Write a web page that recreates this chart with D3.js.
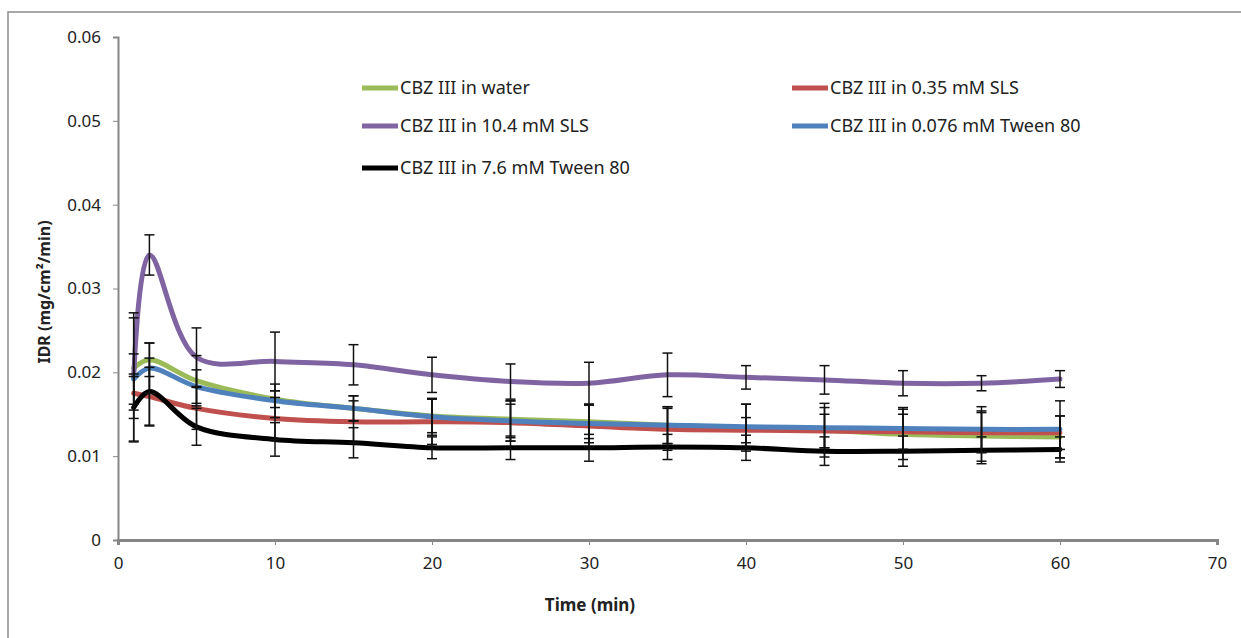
<!DOCTYPE html>
<html>
<head>
<meta charset="utf-8">
<script src="https://cdn.jsdelivr.net/npm/d3@7"></script>
<style>
  body { margin: 0; background: #fff; }
  text { font-family: "Noto Sans", sans-serif; fill: #222; }
</style>
</head>
<body>
<div id="chart"></div>
<script>
// sampling times (min)
var times = [1, 2, 5, 10, 15, 20, 25, 30, 35, 40, 45, 50, 55, 60];

var seriesNames = [
  'CBZ III in water',
  'CBZ III in 0.35 mM  SLS',
  'CBZ III in 10.4 mM  SLS',
  'CBZ III in 0.076 mM Tween 80',
  'CBZ III in 7.6 mM Tween 80'
];
var seriesColors = ['#9bbb59', '#c0504d', '#8064a2', '#4f81bd', '#000000'];

var water     = [0.0205, 0.0215, 0.0190, 0.0168, 0.0157, 0.0148, 0.0144, 0.0141, 0.0137, 0.0134, 0.0131, 0.0126, 0.0124, 0.0123];
var sls035    = [0.0175, 0.0171, 0.0157, 0.0145, 0.0141, 0.0141, 0.0140, 0.0136, 0.0132, 0.0131, 0.0130, 0.0129, 0.0128, 0.0128];
var sls104    = [0.0194, 0.0340, 0.0218, 0.0213, 0.0209, 0.0197, 0.0189, 0.0187, 0.0197, 0.0194, 0.0191, 0.0187, 0.0187, 0.0192];
var tween0076 = [0.0192, 0.0205, 0.0183, 0.0166, 0.0157, 0.0147, 0.0142, 0.0139, 0.0137, 0.0135, 0.0134, 0.0133, 0.0132, 0.0132];
var tween76   = [0.0158, 0.0177, 0.0135, 0.0120, 0.0116, 0.0110, 0.0110, 0.0110, 0.0111, 0.0110, 0.0106, 0.0106, 0.0107, 0.0108];

var waterErr     = [0.0060, 0.0020, 0.0030, 0.0010, 0.0015, 0.0020, 0.0022, 0.0020, 0.0022, 0.0028, 0.0032, 0.0030, 0.0030, 0.0025];
var sls035Err    = [0.0020, 0.0035, 0.0025, 0.0025, 0.0025, 0.0027, 0.0022, 0.0025, 0.0025, 0.0015, 0.0020, 0.0021, 0.0024, 0.0020];
var sls104Err    = [0.0077, 0.0024, 0.0035, 0.0035, 0.0024, 0.0021, 0.0021, 0.0025, 0.0026, 0.0014, 0.0017, 0.0015, 0.0009, 0.0010];
var tween0076Err = [0.0030, 0.0030, 0.0020, 0.0020, 0.0015, 0.0022, 0.0024, 0.0023, 0.0022, 0.0027, 0.0024, 0.0025, 0.0027, 0.0034];
var tween76Err   = [0.0040, 0.0040, 0.0022, 0.0020, 0.0018, 0.0013, 0.0014, 0.0016, 0.0015, 0.0015, 0.0017, 0.0018, 0.0016, 0.0015];

var xTicks = [0, 10, 20, 30, 40, 50, 60, 70];
var yTicks = [0, 0.01, 0.02, 0.03, 0.04, 0.05, 0.06];

var allValues = [water, sls035, sls104, tween0076, tween76];
var allErrs = [waterErr, sls035Err, sls104Err, tween0076Err, tween76Err];

var series = seriesNames.map(function(name, i) {
  return {
    name: name,
    color: seriesColors[i],
    points: times.map(function(t, j) {
      return { t: t, v: allValues[i][j], e: allErrs[i][j] };
    })
  };
});

var width = 1241, height = 638;

var svg = d3.select('#chart').append('svg')
  .attr('width', width)
  .attr('height', height);

// outer frame
svg.append('rect')
  .attr('x', 8).attr('y', 12)
  .attr('width', 1260).attr('height', 660)
  .attr('fill', 'none')
  .attr('stroke', '#8c8c8c')
  .attr('stroke-width', 1.5);

var xScale = d3.scaleLinear().domain([0, 70]).range([118, 1217]);
var yScale = d3.scaleLinear().domain([0, 0.06]).range([540, 37]);

// y axis
var yAxis = d3.axisLeft(yScale)
  .tickValues(yTicks)
  .tickFormat(function(d) { return d === 0 ? '0' : d3.format('.2f')(d); })
  .tickSize(5)
  .tickPadding(12);

var yG = svg.append('g')
  .attr('transform', 'translate(118,0)')
  .call(yAxis);
yG.select('.domain').attr('stroke', '#868686').attr('stroke-width', 2);
yG.selectAll('.tick line').attr('stroke', '#868686');
yG.selectAll('text')
  .style('font-size', '17px')
  .style('font-family', '"Noto Sans", sans-serif')
  .attr('fill', '#333');

// x axis
var xAxis = d3.axisBottom(xScale)
  .tickValues(xTicks)
  .tickSize(5)
  .tickPadding(12);

var xG = svg.append('g')
  .attr('transform', 'translate(0,540)')
  .call(xAxis);
xG.select('.domain').attr('stroke', '#868686').attr('stroke-width', 3);
xG.selectAll('.tick line').attr('stroke', '#868686');
xG.selectAll('text')
  .style('font-size', '17px')
  .style('font-family', '"Noto Sans", sans-serif')
  .attr('fill', '#333');

// axis titles
svg.append('text')
  .attr('x', 590)
  .attr('y', 611)
  .attr('text-anchor', 'middle')
  .style('font-size', '17px')
  .style('font-weight', 'bold')
  .text('Time (min)');

svg.append('text')
  .attr('transform', 'translate(50,292) rotate(-90)')
  .attr('text-anchor', 'middle')
  .style('font-size', '16px')
  .style('font-weight', 'bold')
  .text('IDR (mg/cm\u00b2/min)');

// smooth lines
var line = d3.line()
  .x(function(d) { return xScale(d.t); })
  .y(function(d) { return yScale(d.v); })
  .curve(d3.curveCatmullRom.alpha(0.5));

svg.append('g')
  .selectAll('path')
  .data(series)
  .enter()
  .append('path')
  .attr('d', function(d) { return line(d.points); })
  .attr('fill', 'none')
  .attr('stroke', function(d) { return d.color; })
  .attr('stroke-width', 5)
  .attr('stroke-linejoin', 'round')
  .attr('stroke-linecap', 'round');

// error bars
var errG = svg.append('g');
series.forEach(function(s) {
  var g = errG.append('g');
  g.selectAll('line.bar')
    .data(s.points)
    .enter()
    .append('line')
    .attr('x1', function(d) { return xScale(d.t); })
    .attr('x2', function(d) { return xScale(d.t); })
    .attr('y1', function(d) { return yScale(d.v + d.e); })
    .attr('y2', function(d) { return yScale(d.v - d.e); })
    .attr('stroke', '#111')
    .attr('stroke-width', 1.5);
  [1, -1].forEach(function(sign) {
    g.selectAll('line.cap' + sign)
      .data(s.points)
      .enter()
      .append('line')
      .attr('x1', function(d) { return xScale(d.t) - 5; })
      .attr('x2', function(d) { return xScale(d.t) + 5; })
      .attr('y1', function(d) { return yScale(d.v + sign * d.e); })
      .attr('y2', function(d) { return yScale(d.v + sign * d.e); })
      .attr('stroke', '#111')
      .attr('stroke-width', 1.5);
  });
});

// legend
var legendPos = [[362, 88], [792, 88], [362, 126], [792, 126], [362, 168]];
var legend = svg.append('g')
  .selectAll('g')
  .data(series)
  .enter()
  .append('g')
  .attr('transform', function(d, i) { return 'translate(' + legendPos[i][0] + ',' + legendPos[i][1] + ')'; });

legend.append('line')
  .attr('x1', 0).attr('x2', 36)
  .attr('y1', 0).attr('y2', 0)
  .attr('stroke', function(d) { return d.color; })
  .attr('stroke-width', 5);

legend.append('text')
  .attr('x', 38)
  .attr('y', 6)
  .style('font-size', '18px')
  .text(function(d) { return d.name; });
</script>
</body>
</html>
